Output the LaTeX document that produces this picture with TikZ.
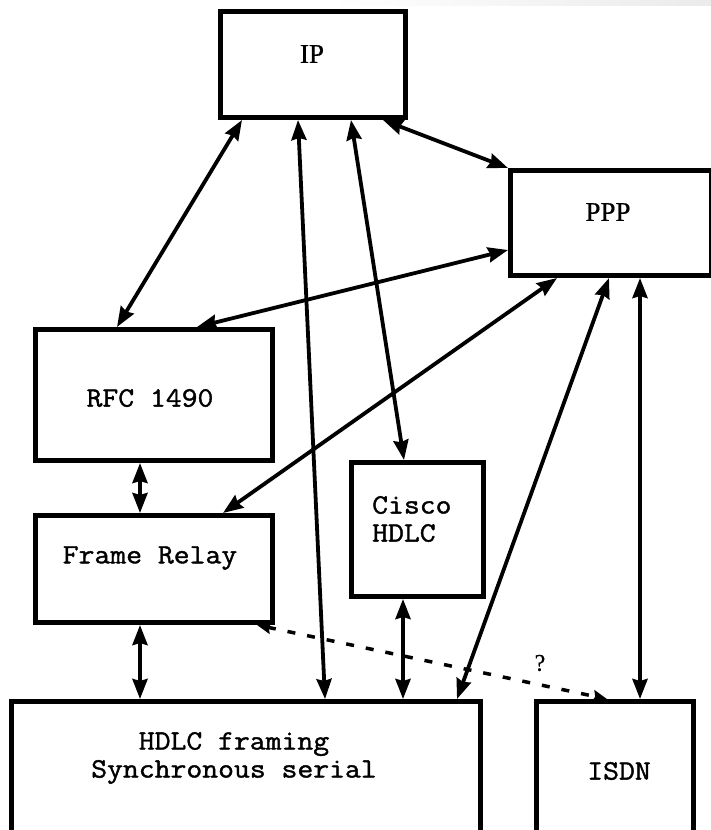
\documentclass[tikz,border=0pt]{standalone}
\usepackage{fontspec}
\setmonofont[FakeStretch=1.1,FakeBold=1.4]{Latin Modern Mono}
\newfontfamily\serifcap[FakeBold=0.6]{Liberation Serif}
\usetikzlibrary{arrows.meta}
\begin{document}
\begin{tikzpicture}[x=1pt,y=-1pt,
  box/.style={draw=black,line width=5pt,inner sep=0pt,outer sep=2.5pt,anchor=north west},
  lbl/.style={inner sep=0pt,font=\ttfamily\fontsize{28}{28}\selectfont,align=left},
  slbl/.style={inner sep=0pt,font=\serifcap\fontsize{27}{30}\selectfont},
  arr/.style={line width=3.8pt,{Stealth[length=20pt,width=15pt,inset=2pt]}-{Stealth[length=20pt,width=15pt,inset=2pt]}},
  darr/.style={line width=3.5pt,dash pattern=on 8pt off 12pt,{Stealth[length=14pt,width=12pt,inset=2pt]}-{Stealth[length=14pt,width=12pt,inset=2pt]}}]
\useasboundingbox (0,0) rectangle (711,830);
\fill[white] (0,0) rectangle (711,830);
\clip (0,0) rectangle (711,830);
\shade[left color=white,right color=black!8] (330,0) rectangle (711,5);
% boxes (outer corner positions)
\node[box,minimum width=185pt,minimum height=106pt] (ip) at (218,9) {};
\node[box,minimum width=201pt,minimum height=105pt] (ppp) at (508,168) {};
\node[box,minimum width=237pt,minimum height=131pt] (rfc) at (33,327) {};
\node[box,minimum width=237pt,minimum height=107pt] (fr) at (33,513) {};
\node[box,minimum width=132pt,minimum height=134pt] (cisco) at (349,460) {};
\node[box,minimum width=469pt,minimum height=150pt] (hdlc) at (9,699) {};
\node[box,minimum width=157pt,minimum height=150pt] (isdn) at (534,699) {};
% texts
\node[slbl] (ipt) at (312,54) {IP};
\node[slbl] (pppt) at (608,212) {PPP};
\node[lbl] (rfct) at (150,398) {RFC 1490};
\node[lbl] (frt) at (150,558) {Frame Relay};
\node[lbl,anchor=west] (ciscot) at (372,519) {Cisco\\HDLC};
\node[lbl,align=center] (hdlct) at (234,758) {HDLC framing\\Synchronous serial};
\node[lbl] (isdnt) at (619,771) {ISDN};
\node[inner sep=0pt,font=\serifcap\fontsize{24}{26}\selectfont] (q) at (540,663) {?};
% connectors
\draw[arr] ([xshift=24pt]ip.south west) -- ([xshift=84pt]rfc.north west);
\draw[arr] ([xshift=80pt]ip.south west) -- ([xshift=316pt]hdlc.north west);
\draw[arr] ([xshift=133pt]ip.south west) -- ([xshift=55pt]cisco.north west);
\draw[arr] ([xshift=165pt]ip.south west) -- (ppp.north west);
\draw[arr] ([yshift=28pt]ppp.south west) -- ([xshift=164pt]rfc.north west);
\draw[arr] ([xshift=49pt]ppp.south west) -- ([xshift=190pt]fr.north west);
\draw[arr] ([xshift=101pt]ppp.south west) -- ([xshift=448pt]hdlc.north west);
\draw[arr] ([xshift=132pt]ppp.south west) -- ([xshift=106pt]isdn.north west);
\draw[arr] ([xshift=107pt]rfc.south west) -- ([xshift=107pt]fr.north west);
\draw[arr] ([xshift=107pt]fr.south west) -- ([xshift=131pt]hdlc.north west);
\draw[arr] ([xshift=54pt]cisco.south west) -- ([xshift=394pt]hdlc.north west);
\draw[darr] ([xshift=-18pt]fr.south east) -- ([xshift=73pt]isdn.north west);
\end{tikzpicture}
\end{document}
